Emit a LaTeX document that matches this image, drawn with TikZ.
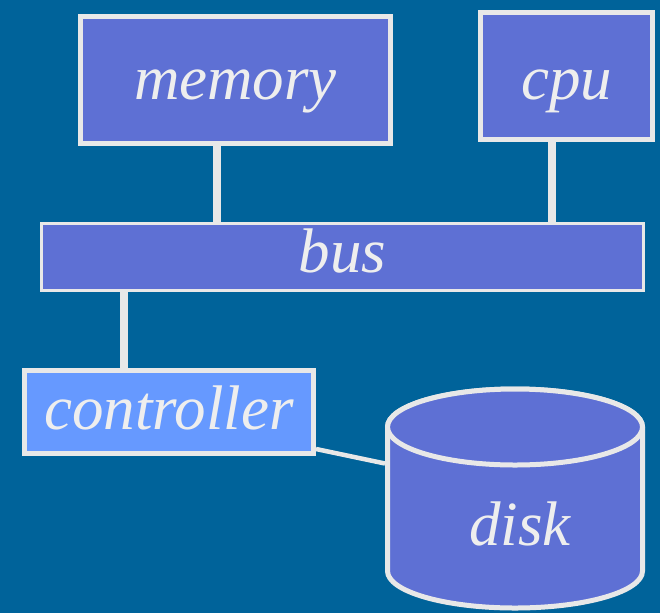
\documentclass[tikz,border=0pt]{standalone}
\usepackage{fontspec}
\setmainfont{Liberation Serif}
\definecolor{slidebg}{RGB}{0,99,154}
\definecolor{boxfill}{RGB}{94,112,212}
\definecolor{ctrlfill}{RGB}{102,153,255}
\definecolor{edge}{RGB}{232,232,232}
\definecolor{txt}{RGB}{238,238,238}
\tikzset{
  unit/.style={draw=edge, line width=5pt, fill=boxfill, text=txt,
    font=\fontsize{63}{70}\selectfont\itshape, inner sep=0pt, text depth=0pt},
  drum/.style={draw=edge, line width=5pt, fill=boxfill},
  link/.style={draw=edge, line width=8pt},
  thinlink/.style={draw=edge, line width=4.5pt}
}
\begin{document}
\begin{tikzpicture}[x=1pt,y=-1pt]
        \fill[slidebg] (0,0) rectangle (660,613);
        \useasboundingbox (0,0) rectangle (660,613);
        % boxes
        \node[unit, text height=38pt, minimum width=310pt, minimum height=127pt] (memory) at (235.5,80) {memory};
        \node[unit, text height=46pt, minimum width=172pt, minimum height=127pt] (cpu) at (566.5,76) {cpu};
        \node[unit, text height=30pt, line width=2.5pt, minimum width=602pt, minimum height=67pt] (bus) at (342.5,257) {bus};
        \node[unit, text height=34pt, fill=ctrlfill, minimum width=289pt, minimum height=83pt] (controller) at (169,412) {controller};
        % disk drum
        \draw[drum] (387.5,427) -- (387.5,571) arc[start angle=180, end angle=0, x radius=127.5, y radius=37]
              -- (642.5,427) arc[start angle=0, end angle=-180, x radius=127.5, y radius=38] -- cycle;
        \draw[drum] (515,427) ellipse[x radius=127.5, y radius=38];
        \node[unit, draw=none, fill=none, text height=93pt, minimum width=255pt, minimum height=219pt] (disk) at (515,498.5) {\hspace{10pt}disk};
        % connections
        \draw[link] ([xshift=-18.5pt]memory.south) -- ([xshift=-18.5pt]memory.south |- bus.north);
        \draw[link] ([xshift=-14.5pt]cpu.south) -- ([xshift=-14.5pt]cpu.south |- bus.north);
        \draw[link] ([xshift=-45pt]controller.north) -- ([xshift=-45pt]controller.north |- bus.south);
        \draw[thinlink] ([yshift=-37pt]controller.east) -- ([yshift=35pt]disk.west);
\end{tikzpicture}
\end{document}
